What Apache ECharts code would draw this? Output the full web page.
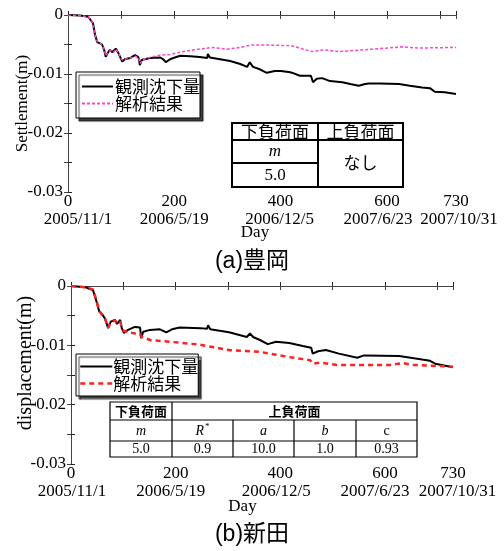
<!DOCTYPE html>
<html><head><meta charset="utf-8">
<script src="https://cdn.jsdelivr.net/npm/echarts@6/dist/echarts.min.js"></script>
<style>html,body{margin:0;padding:0;background:#fff}#c{width:504px;height:551px}</style>
</head><body><div id="c"></div>
<script>
// ---- data ----
const dayTicks = [0, 200, 400, 600, 730];
const dateLabels = ['2005/11/1', '2006/5/19', '2006/12/5', '2007/6/23', '2007/10/31'];
const yLabelValues = [0, -0.01, -0.02, -0.03];

// (a) Toyooka: observed settlement [day, m]
const obsA = [[0,0],[23,-0.0001],[32,-0.0002],[38,-0.0003],[41,-0.0003],[47,-0.0014],[51,-0.0034],[55,-0.0046],[60,-0.0048],[64,-0.005],[68,-0.0059],[71,-0.0071],[75,-0.0064],[79,-0.0059],[83,-0.0063],[85,-0.0065],[90,-0.0057],[94,-0.0063],[96,-0.0066],[100,-0.0075],[102,-0.0079],[107,-0.0075],[117,-0.0073],[122,-0.007],[126,-0.0068],[132,-0.0071],[134,-0.0076],[135,-0.0085],[139,-0.0076],[145,-0.0075],[154,-0.0073],[173,-0.0072],[179,-0.0075],[184,-0.008],[192,-0.0075],[201,-0.0072],[211,-0.0069],[230,-0.007],[248,-0.0071],[262,-0.0073],[263,-0.0066],[267,-0.0072],[286,-0.0075],[305,-0.0078],[324,-0.0083],[337,-0.0088],[342,-0.008],[348,-0.0088],[361,-0.0092],[374,-0.0098],[389,-0.0095],[401,-0.0095],[418,-0.0097],[425,-0.0099],[436,-0.0103],[457,-0.0103],[459,-0.0105],[461,-0.0114],[468,-0.0108],[478,-0.0107],[493,-0.0112],[516,-0.0114],[531,-0.0117],[547,-0.012],[559,-0.0117],[566,-0.0116],[587,-0.0116],[623,-0.0117],[643,-0.012],[666,-0.0123],[681,-0.0124],[690,-0.013],[709,-0.0131],[730,-0.0134]];
// (a) analysis result
const calcA = [[0,0],[23,-0.0001],[38,-0.0003],[45,-0.0010],[51,-0.0034],[55,-0.0045],[62,-0.0049],[68,-0.0058],[71,-0.0069],[76,-0.0063],[80,-0.006],[85,-0.0064],[90,-0.0058],[95,-0.0064],[101,-0.0076],[108,-0.0075],[120,-0.0072],[128,-0.007],[134,-0.0075],[136,-0.0082],[140,-0.0076],[154,-0.0072],[173,-0.0068],[192,-0.0067],[211,-0.0063],[237,-0.0059],[271,-0.0055],[299,-0.0058],[324,-0.0055],[344,-0.0051],[380,-0.0051],[420,-0.0052],[436,-0.0056],[459,-0.0062],[482,-0.0059],[510,-0.0062],[572,-0.0058],[628,-0.0054],[660,-0.0056],[730,-0.0055]];

// (b) Nitta: observed displacement
const obsB = [[0,0],[27,-0.0002],[36,-0.0005],[42,-0.0007],[48,-0.0024],[54,-0.0043],[59,-0.0047],[65,-0.0055],[71,-0.0071],[76,-0.006],[84,-0.0057],[88,-0.0064],[94,-0.0057],[97,-0.0071],[101,-0.0079],[109,-0.0074],[122,-0.0069],[132,-0.007],[134,-0.0088],[138,-0.0077],[151,-0.0074],[170,-0.0073],[182,-0.0078],[193,-0.0073],[208,-0.007],[247,-0.0071],[260,-0.0072],[262,-0.0066],[266,-0.0073],[302,-0.0078],[336,-0.0086],[342,-0.008],[348,-0.0086],[361,-0.0091],[376,-0.0098],[392,-0.0094],[417,-0.0096],[443,-0.0101],[459,-0.0104],[462,-0.0114],[472,-0.011],[487,-0.0108],[512,-0.0114],[547,-0.0121],[560,-0.0117],[627,-0.0118],[671,-0.0124],[686,-0.0126],[696,-0.0131],[730,-0.0137]];
// (b) analysis result
const calcB = [[0,0],[27,-0.0002],[42,-0.0006],[48,-0.0022],[54,-0.0042],[59,-0.0048],[65,-0.0055],[71,-0.007],[76,-0.0061],[84,-0.0058],[88,-0.0063],[94,-0.006],[97,-0.007],[101,-0.0076],[122,-0.008],[132,-0.0081],[134,-0.0085],[151,-0.0091],[189,-0.0094],[247,-0.0099],[302,-0.0108],[361,-0.0111],[386,-0.0115],[419,-0.012],[457,-0.0125],[462,-0.0131],[476,-0.0129],[508,-0.0133],[610,-0.0133],[634,-0.013],[654,-0.0133],[730,-0.0136]];

// table contents
const tableAHeader = ['下負荷面', '上負荷面'];
const tableAParam = 'm';
const tableAValue = '5.0';
const tableANone = 'なし';
const tableBHeader = ['下負荷面', '上負荷面'];
const tableBParams = ['m', 'R*', 'a', 'b', 'c'];
const tableBValues = ['5.0', '0.9', '10.0', '1.0', '0.93'];

// ---- styles ----
const SERIF = '"Liberation Serif","Times New Roman",serif';
const SANS = '"Noto Sans CJK JP","Liberation Sans",sans-serif';
const TITLE = '"Liberation Sans","Noto Sans CJK JP",sans-serif';
const AX = '#222';

function xFmt(v) {
  const i = dayTicks.indexOf(Math.round(v));
  if (i < 0) return '';
  return '{n|' + Math.round(v) + '}\n{d' + i + '|' + dateLabels[i] + '}';
}
function yFmt(v) {
  const k = Math.round(v * 1000);
  if (k % 10 !== 0) return '';
  const idx = yLabelValues.findIndex(t => Math.round(t * 1000) === k);
  if (idx < 0) return '';
  return k === 0 ? '0' : yLabelValues[idx].toFixed(2);
}
function richFor(pads) {
  const r = { n: { fontFamily: SERIF, fontSize: 17, lineHeight: 18, color: '#000' } };
  pads.forEach((p, i) => { r['d' + i] = { fontFamily: SERIF, fontSize: 17, lineHeight: 18, color: '#000', padding: p }; });
  return r;
}
const richA = richFor([[0,0,0,20],[0,0,0,0],[0,2,0,0],[0,18,0,0],[0,0,0,6]]);
const richB = richFor([[0,0,0,2],[0,10,0,0],[0,8,0,0],[0,20,0,0],[0,0,0,9]]);

function xBottom(gi, rich, namePad, gap) {
  return {
    type: 'value', gridIndex: gi, position: 'bottom', min: 0, max: 730, interval: 100,
    name: 'Day', nameLocation: 'middle', nameGap: gap, nameMoveOverlap: false,
    nameTextStyle: { fontFamily: SERIF, fontSize: 17, color: '#000', padding: namePad },
    axisLine: { show: true, lineStyle: { color: AX, width: 1 } },
    axisTick: { show: true, inside: true, length: 4, lineStyle: { color: AX } },
    axisLabel: { formatter: xFmt, margin: 1, rich: rich, color: '#000' },
    splitLine: { show: false }
  };
}
function xTop(gi) {
  return {
    type: 'value', gridIndex: gi, position: 'top', min: 0, max: 730, interval: 100,
    axisLine: { show: true, lineStyle: { color: '#444', width: 1 } },
    axisTick: { show: true, inside: true, length: 4, lineStyle: { color: '#444' } },
    axisLabel: { show: false }, splitLine: { show: false }
  };
}
function yLeft(gi, name, gap, fs, namePad) {
  return {
    type: 'value', gridIndex: gi, position: 'left', min: -0.03, max: 0, interval: 0.005,
    name: name, nameLocation: 'middle', nameGap: gap, nameMoveOverlap: false,
    nameTextStyle: { fontFamily: SERIF, fontSize: fs, color: '#000', padding: namePad },
    axisLine: { show: true, lineStyle: { color: AX, width: 1 } },
    axisTick: { show: true, inside: true, length: 4, lineStyle: { color: AX } },
    axisLabel: { formatter: yFmt, margin: 5, fontFamily: SERIF, fontSize: 17, color: '#000' },
    splitLine: { show: false }
  };
}
function yRight(gi) {
  return {
    type: 'value', gridIndex: gi, position: 'right', min: -0.03, max: 0, interval: 0.005,
    axisLine: { show: true, lineStyle: { color: '#444', width: 1 } },
    axisTick: { show: true, inside: true, length: 4, lineStyle: { color: '#444' } },
    axisLabel: { show: false }, splitLine: { show: false }
  };
}

// ---- tables as graphic elements ----
function line(x1, y1, x2, y2, w) {
  return { type: 'line', shape: { x1, y1, x2, y2 }, style: { stroke: '#000', lineWidth: w } };
}
function txt(x, y, s, font) {
  return { type: 'text', x: x, y: y, style: { text: s, font: font, fill: '#000', align: 'center', verticalAlign: 'middle' } };
}
const g = [];
// table A
g.push({ type: 'rect', shape: { x: 232, y: 123, width: 171, height: 64 }, style: { fill: '#fff', stroke: '#000', lineWidth: 2 } });
g.push(line(232, 140, 403, 140, 2));
g.push(line(232, 163, 318, 163, 2));
g.push(line(318, 123, 318, 187, 2));
g.push(txt(275, 132, tableAHeader[0], '17px ' + SANS));
g.push(txt(360.5, 132, tableAHeader[1], '17px ' + SANS));
g.push(txt(275, 152, tableAParam, 'italic 17px ' + SERIF));
g.push(txt(275, 175.5, tableAValue, '17px ' + SERIF));
g.push(txt(360.5, 163, tableANone, '17px ' + SANS));
// table B
const colB = [110, 172, 233, 294, 356, 417];
g.push({ type: 'rect', shape: { x: 110, y: 402, width: 307, height: 55 }, style: { fill: '#fff', stroke: '#000', lineWidth: 1.2 } });
g.push(line(110, 420, 417, 420, 1.2));
g.push(line(110, 441, 417, 441, 1.2));
g.push(line(172, 402, 172, 457, 1.2));
for (let i = 2; i < 5; i++) g.push(line(colB[i], 420, colB[i], 457, 1.2));
g.push(txt(141, 411, tableBHeader[0], 'bold 13px ' + SANS));
g.push(txt(294.5, 411, tableBHeader[1], 'bold 13px ' + SANS));
tableBParams.forEach((p, i) => {
  const cx = (colB[i] + colB[i + 1]) / 2;
  if (p === 'R*') {
    g.push({ type: 'text', x: cx, y: 431, style: { text: '{r|R}{s|*}', align: 'center', verticalAlign: 'middle',
      rich: { r: { font: 'italic 14px ' + SERIF, fill: '#000' }, s: { font: '9px ' + SERIF, fill: '#000', verticalAlign: 'top', padding: [0, 0, 8, 1] } } } });
  } else {
    g.push(txt(cx, 431, p, (p === 'c' ? '' : 'italic ') + '14px ' + SERIF));
  }
});
tableBValues.forEach((v, i) => {
  const cx = (colB[i] + colB[i + 1]) / 2;
  g.push(txt(cx, 449.5, v, '14px ' + SERIF));
});

const legendCommon = {
  orient: 'vertical', itemGap: 0, itemHeight: 17,
  backgroundColor: '#fff', borderColor: '#000', borderWidth: 1,
  shadowColor: 'rgba(0,0,0,0.75)', shadowBlur: 1, shadowOffsetX: 3, shadowOffsetY: 3,
  selectedMode: false, itemStyle: { opacity: 0 }
};

const option = {
  animation: false,
  backgroundColor: '#fff',
  title: [
    { text: '(a)豊岡', left: 'center', top: 250, padding: 0, textStyle: { fontFamily: TITLE, fontSize: 23, fontWeight: 'normal', color: '#000', lineHeight: 24 } },
    { text: '(b)新田', left: 'center', top: 523, padding: 0, textStyle: { fontFamily: TITLE, fontSize: 23, fontWeight: 'normal', color: '#000', lineHeight: 24 } }
  ],
  grid: [
    { left: 68, top: 15, width: 388, height: 177, containLabel: false, outerBoundsMode: 'none' },
    { left: 71, top: 286, width: 382, height: 178, containLabel: false, outerBoundsMode: 'none' }
  ],
  xAxis: [xBottom(0, richA, [0, 14, 0, 0], 32), xTop(0), xBottom(1, richB, [0, 39, 0, 0], 34), xTop(1)],
  yAxis: [yLeft(0, 'Settlement(m)', 37, 17, [0, 0, 0, 0]), yRight(0), yLeft(1, 'displacement(m)', 35, 20, [0, 0, 0, 24]), yRight(1)],
  legend: [
    Object.assign({}, legendCommon, { left: 76, top: 72, padding: [6, 0, 6, 5], itemWidth: 31,
      textStyle: { fontFamily: SANS, fontSize: 17, color: '#000', padding: [0, 0, 0, -3] },
      data: [{ name: '観測沈下量', itemStyle: { opacity: 0 } }, { name: '解析結果', itemStyle: { opacity: 0 } }] }),
    Object.assign({}, legendCommon, { left: 76, top: 354, padding: [4, 0, 4, 3], itemWidth: 32,
      textStyle: { fontFamily: SANS, fontSize: 17, color: '#000', padding: [0, 0, 0, -4] },
      data: [{ name: '観測沈下量', lineStyle: { color: '#000', width: 2, type: 'solid' }, itemStyle: { opacity: 0 } },
             { name: '解析結果', lineStyle: { color: '#ff2020', width: 2.5, type: [5, 4] }, itemStyle: { opacity: 0 } }] })
  ],
  series: [
    { name: '観測沈下量', type: 'line', xAxisIndex: 0, yAxisIndex: 0, data: obsA, showSymbol: false, symbol: 'none', lineStyle: { color: '#000', width: 2 }, itemStyle: { color: '#000' }, z: 3 },
    { name: '解析結果', type: 'line', xAxisIndex: 0, yAxisIndex: 0, data: calcA, showSymbol: false, symbol: 'none', lineStyle: { color: '#ff44cc', width: 1.5, type: [3, 2] }, itemStyle: { color: '#ff44cc' }, z: 4 },
    { name: '観測沈下量', type: 'line', xAxisIndex: 2, yAxisIndex: 2, data: obsB, showSymbol: false, symbol: 'none', lineStyle: { color: '#000', width: 2 }, itemStyle: { color: '#000' }, z: 3 },
    { name: '解析結果', type: 'line', xAxisIndex: 2, yAxisIndex: 2, data: calcB, showSymbol: false, symbol: 'none', lineStyle: { color: '#ff2020', width: 2.5, type: [5, 4] }, itemStyle: { color: '#ff2020' }, z: 4 }
  ],
  graphic: g
};
const chart = echarts.init(document.getElementById('c'), null, { renderer: 'canvas' });
chart.setOption(option);
</script></body></html>
